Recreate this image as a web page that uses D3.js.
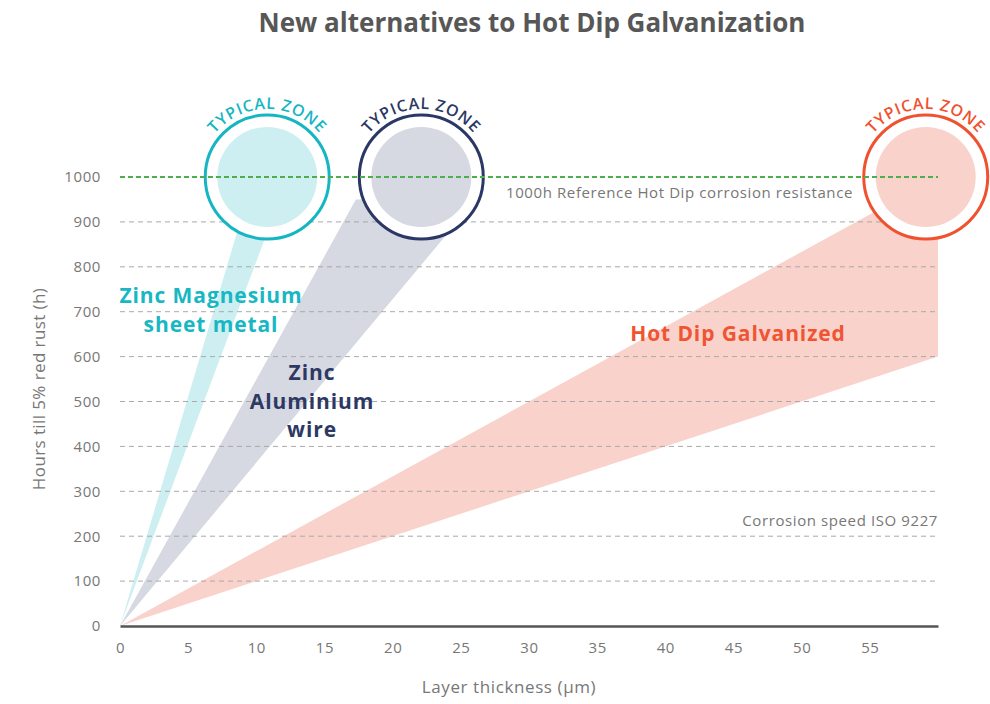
<!DOCTYPE html>
<html>
<head>
<meta charset="utf-8">
<script src="https://cdn.jsdelivr.net/npm/d3@7"></script>
<style>
  body { margin: 0; background: #fff; }
  svg { font-family: "Open Sans", sans-serif; }
</style>
</head>
<body>
<svg id="chart" width="990" height="704"></svg>
<script>
// data
var series = ["Zinc Magnesium", "Zinc Aluminium", "Hot Dip Galvanized"];
var labelLines = [["Zinc Magnesium", "sheet metal"], ["Zinc", "Aluminium", "wire"], ["Hot Dip Galvanized"]];
// each wedge starts at (0 µm, 0 h) and ends on two points [thickness, hours]
var wedgeEndA = [[9.3, 950], [17.3, 950], [60, 1000]];
var wedgeEndB = [[11.7, 950], [26.1, 950], [60, 600]];
// "typical zone" circles
var zoneThickness = [10.8, 22.1, 59.1];
var zoneHours = [1000, 1000, 1000];
var xTicks = [0, 5, 10, 15, 20, 25, 30, 35, 40, 45, 50, 55];
var yTicks = [0, 100, 200, 300, 400, 500, 600, 700, 800, 900, 1000];
var referenceHours = 1000;

var fills = ["#cdeff1", "#d6d8e2", "#f9d3cb"];
var strokes = ["#15b6c2", "#2b3764", "#f0512f"];
var labelColors = ["#17b7c3", "#2d3963", "#f05533"];

var svg = d3.select("#chart");

var x = d3.scaleLinear().domain([0, 60]).range([120, 938]);
var y = d3.scaleLinear().domain([0, 1000]).range([626, 177]);

// title
svg.append("text")
    .attr("x", 532).attr("y", 32)
    .attr("text-anchor", "middle")
    .style("font-size", "26px").style("font-weight", "700")
    .style("fill", "#575757")
    .text("New alternatives to Hot Dip Galvanization");

// wedges
var wedges = svg.append("g");
series.forEach(function (s, i) {
    var pts = [[0, 0], wedgeEndA[i], wedgeEndB[i]];
    wedges.append("path")
        .attr("d", d3.line().x(d => x(d[0])).y(d => y(d[1]))(pts) + "Z")
        .attr("fill", fills[i]);
});

// grid lines
svg.append("g").selectAll("line")
    .data(yTicks.filter(d => d > 0 && d < referenceHours))
    .enter().append("line")
    .attr("x1", x(0)).attr("x2", x(60))
    .attr("y1", d => y(d)).attr("y2", d => y(d))
    .attr("stroke", "#a9a9a9")
    .attr("stroke-width", 1)
    .attr("stroke-dasharray", "5,4");

// circles: white ring + inner fill
var zones = svg.append("g");
series.forEach(function (s, i) {
    var cx = x(zoneThickness[i]), cy = y(zoneHours[i]);
    zones.append("circle").attr("cx", cx).attr("cy", cy).attr("r", 62).attr("fill", "#fff");
    zones.append("circle").attr("cx", cx).attr("cy", cy).attr("r", 50).attr("fill", fills[i]);
});

// reference line
svg.append("line")
    .attr("x1", x(0)).attr("x2", x(60))
    .attr("y1", y(referenceHours)).attr("y2", y(referenceHours))
    .attr("stroke", "#4cae4c")
    .attr("stroke-width", 2)
    .attr("stroke-dasharray", "5,3");

// rings + arc text
var defs = svg.append("defs");
series.forEach(function (s, i) {
    var cx = x(zoneThickness[i]), cy = y(zoneHours[i]);
    zones.append("circle").attr("cx", cx).attr("cy", cy).attr("r", 62)
        .attr("fill", "none").attr("stroke", strokes[i]).attr("stroke-width", 3);

    var r = 68, a = 80 * Math.PI / 180;
    defs.append("path")
        .attr("id", "arc" + i)
        .attr("d", "M" + (cx - r * Math.sin(a)) + "," + (cy - r * Math.cos(a)) +
            " A" + r + "," + r + " 0 0 1 " + (cx + r * Math.sin(a)) + "," + (cy - r * Math.cos(a)));
    svg.append("text")
        .style("font-size", "16px").style("font-weight", "600")
        .style("letter-spacing", "0.8px")
        .style("fill", strokes[i])
        .append("textPath")
        .attr("href", "#arc" + i)
        .attr("startOffset", "50%")
        .attr("text-anchor", "middle")
        .text("TYPICAL ZONE");
});

// series labels
var labelPos = [[211, 303], [312, 380], [738, 341]];
series.forEach(function (s, i) {
    var t = svg.append("text")
        .attr("text-anchor", "middle")
        .style("font-size", "21px").style("font-weight", "700")
        .style("letter-spacing", "0.9px")
        .style("fill", labelColors[i]);
    labelLines[i].forEach(function (line, j) {
        t.append("tspan")
            .attr("x", labelPos[i][0])
            .attr("y", labelPos[i][1] + j * 28.7)
            .text(line);
    });
});

// annotations
svg.append("text")
    .attr("x", 506).attr("y", 198)
    .style("font-size", "15px").style("fill", "#777")
    .style("letter-spacing", "0.6px")
    .text("1000h Reference Hot Dip corrosion resistance");
svg.append("text")
    .attr("x", 938).attr("y", 526)
    .attr("text-anchor", "end")
    .style("font-size", "15px").style("fill", "#777")
    .style("letter-spacing", "0.6px")
    .text("Corrosion speed ISO 9227");

// axes
var xAxis = svg.append("g")
    .attr("transform", "translate(0," + y(0) + ")")
    .call(d3.axisBottom(x).tickValues(xTicks).tickSize(0).tickPadding(16).tickSizeOuter(0));
xAxis.select(".domain").attr("stroke", "#555").attr("stroke-width", 2.5);
xAxis.selectAll("text").style("font-size", "15px").style("fill", "#777")
    .style("font-family", "Open Sans").style("letter-spacing", "0.6px");

var yAxis = svg.append("g")
    .attr("transform", "translate(101,0)")
    .call(d3.axisLeft(y).tickValues(yTicks).tickFormat(d3.format("d")).tickSize(0).tickPadding(0));
yAxis.select(".domain").remove();
yAxis.selectAll("text").style("font-size", "15px").style("fill", "#777")
    .style("font-family", "Open Sans").style("letter-spacing", "0.6px");

// axis titles
svg.append("text")
    .attr("transform", "translate(45,389) rotate(-90)")
    .attr("text-anchor", "middle")
    .style("font-size", "17px").style("fill", "#777")
    .style("letter-spacing", "0.4px")
    .text("Hours till 5% red rust (h)");
svg.append("text")
    .attr("x", 509).attr("y", 693)
    .attr("text-anchor", "middle")
    .style("font-size", "17px").style("fill", "#777")
    .style("letter-spacing", "0.6px")
    .text("Layer thickness (µm)");
</script>
</body>
</html>
